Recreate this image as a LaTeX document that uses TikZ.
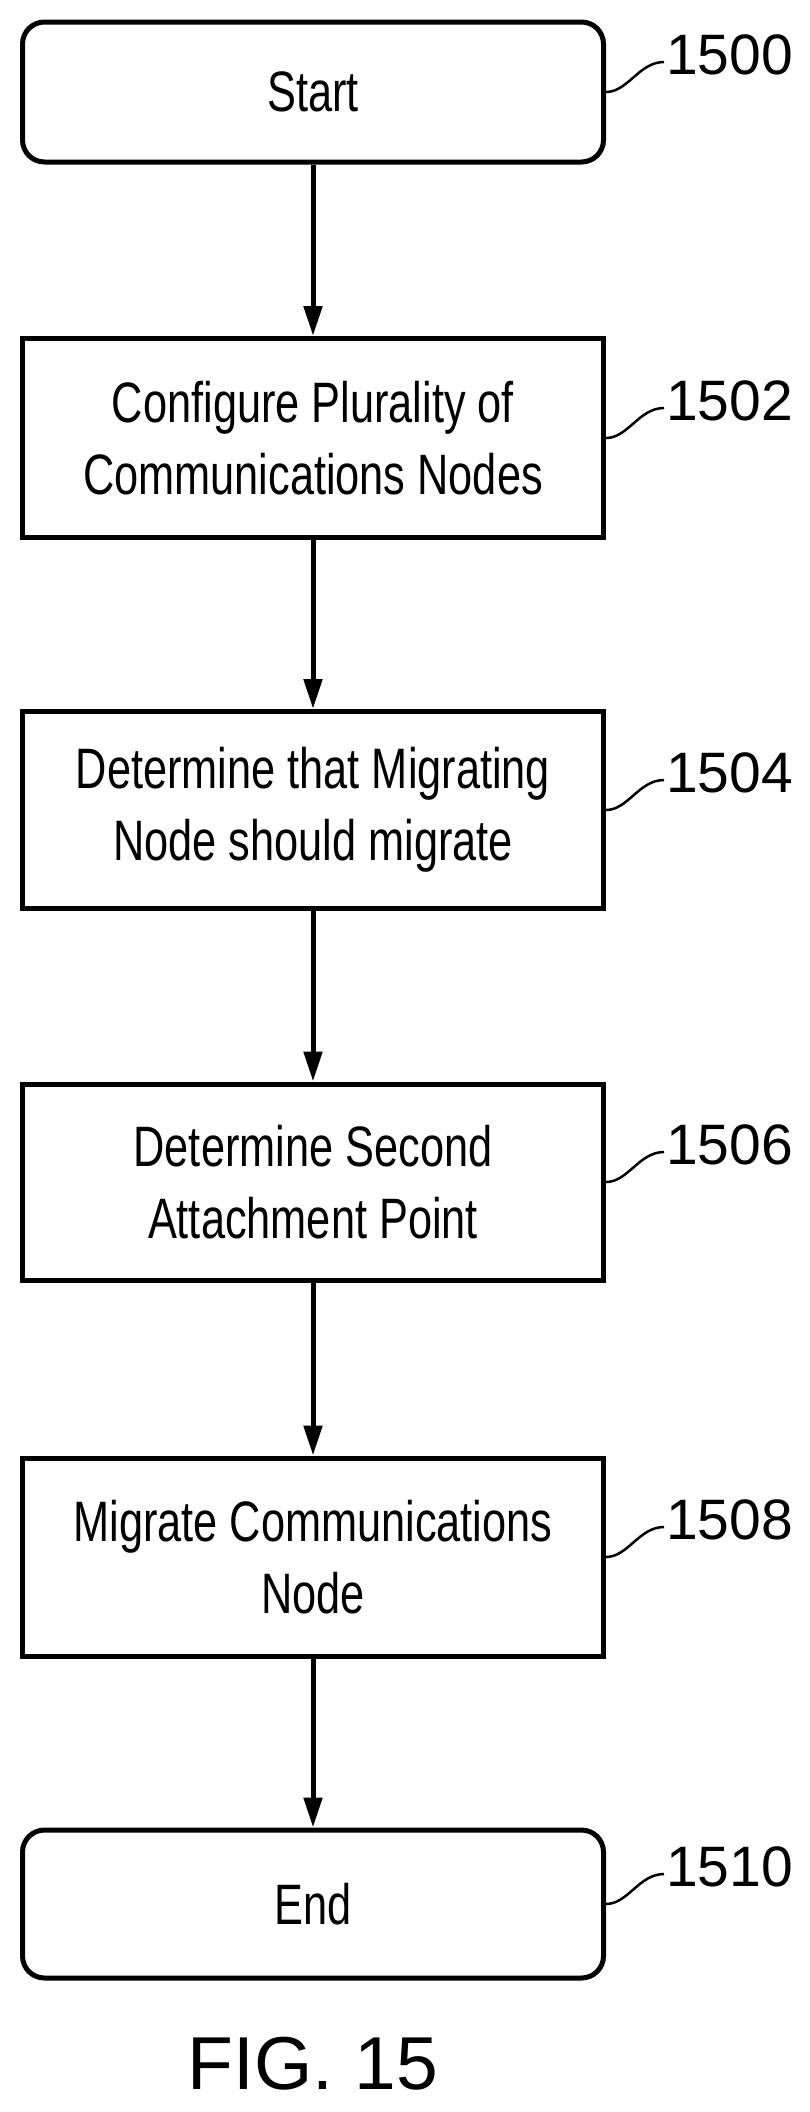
\documentclass[tikz,border=0pt]{standalone}
\usepackage{fontspec}
\setmainfont{Liberation Sans}
\newfontfamily\narrowf{Liberation Sans}[FakeStretch=0.76]
\usetikzlibrary{arrows.meta}
\begin{document}
\begin{tikzpicture}[x=1pt,y=-1pt,
  box/.style={draw,line width=5pt,minimum width=581pt,align=center,
    font=\narrowf\fontsize{57}{72}\selectfont,inner sep=0pt},
  term/.style={box,rounded corners=22pt},
  lab/.style={anchor=west,font=\fontsize{57}{60}\selectfont,inner sep=0pt},
  arr/.style={line width=5pt,-{Triangle[length=30pt,width=18pt]}},
  lead/.style={line width=2.5pt}]
\useasboundingbox (0,0) rectangle (810,2112);
\node[term,minimum height=140pt] (a) at (313,92) {Start};
\node[box,minimum height=199pt] (b) at (313,438) {Configure Plurality of\\Communications Nodes};
\node[box,minimum height=197pt] (c) at (313,810) {Determine that Migrating\\Node should migrate};
\node[box,minimum height=196pt] (d) at (313,1182) {Determine Second\\Attachment Point};
\node[box,minimum height=198pt] (e) at (313,1557) {Migrate Communications\\Node};
\node[term,minimum height=148pt] (f) at (313,1904) {End};
\foreach \s/\t in {a/b,b/c,c/d,d/e,e/f} \draw[arr] (\s) -- (\t);
\foreach \n/\l in {a/1500,b/1502,c/1504,d/1506,e/1508,f/1510}{
  \node[lab] (l\n) at ([xshift=60pt,yshift=37pt]\n.east) {\l};
  \draw[lead] (\n.east) .. controls +(22,0) and +(-25,0) .. ([yshift=-7pt,xshift=-2pt]l\n.west);
}
\node[font=\fontsize{75}{80}\selectfont] (fig) at (313,2064) {FIG. 15};
\end{tikzpicture}
\end{document}
